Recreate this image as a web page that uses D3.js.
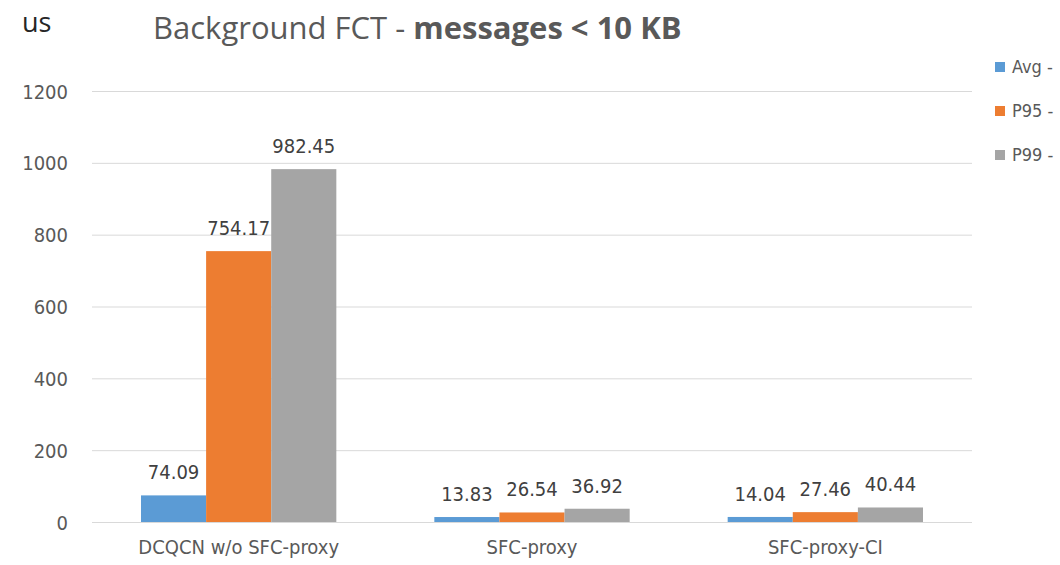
<!DOCTYPE html>
<meta charset="utf-8">
<style>
body { margin: 0; background: #fff; }
svg { display: block; }
.grid line { stroke: #d9d9d9; }
.grid path { display: none; }
.axis--y path, .axis--y line { display: none; }
.axis text, .value, .legend text { font-family: "DejaVu Sans Condensed", "Liberation Sans Narrow", sans-serif; }
.axis--y text { fill: #595959; font-size: 20px; }
.axis--x path, .axis--x line { display: none; }
.axis--x text { fill: #595959; font-size: 20px; }
.value { fill: #404040; font-size: 20px; }
.legend text { fill: #595959; font-size: 18px; }
</style>
<body>
<svg width="1060" height="565"></svg>
</body>
<script src="https://d3js.org/d3.v7.min.js"></script>
<script>

var categories = ["DCQCN w/o SFC-proxy", "SFC-proxy", "SFC-proxy-CI"];
var seriesNames = ["Avg -", "P95 -", "P99 -"];
var avgValues = [74.09, 13.83, 14.04];
var p95Values = [754.17, 26.54, 27.46];
var p99Values = [982.45, 36.92, 40.44];
var yTicks = [0, 200, 400, 600, 800, 1000, 1200];
var colors = ["#5b9bd5", "#ed7d31", "#a5a5a5"];

var seriesValues = [avgValues, p95Values, p99Values];

var svg = d3.select("svg"),
    margin = {top: 91, right: 88, bottom: 43, left: 92},
    width = +svg.attr("width") - margin.left - margin.right,
    height = +svg.attr("height") - margin.top - margin.bottom;

var x0 = d3.scaleBand().domain(categories).range([0, width]).paddingInner(0).paddingOuter(0),
    x1 = d3.scaleBand().domain(seriesNames).range([49, x0.bandwidth() - 49]).padding(0),
    y = d3.scaleLinear().domain([0, 1200]).range([height, 0]);

var g = svg.append("g")
    .attr("transform", "translate(" + margin.left + "," + margin.top + ")");

// gridlines
g.append("g")
    .attr("class", "grid")
    .call(d3.axisLeft(y).tickValues(yTicks).tickSize(-width).tickFormat(""));

// y axis labels
g.append("g")
    .attr("class", "axis axis--y")
    .attr("transform", "translate(-24,0)")
    .call(d3.axisLeft(y).tickValues(yTicks).tickSize(0).tickPadding(0).tickFormat(d3.format("d")))
  .selectAll("text")
    .attr("dy", "0.35em");

// x axis labels
g.append("g")
    .attr("class", "axis axis--x")
    .attr("transform", "translate(0," + height + ")")
    .call(d3.axisBottom(x0).tickSize(0).tickPadding(18));

// bars
var groups = g.selectAll(".group")
  .data(categories)
  .enter().append("g")
    .attr("class", "group")
    .attr("transform", function(d) { return "translate(" + x0(d) + ",0)"; });

seriesNames.forEach(function(s, i) {
  groups.append("rect")
      .attr("x", x1(s))
      .attr("y", function(d, j) { return y(seriesValues[i][j]); })
      .attr("width", x1.bandwidth())
      .attr("height", function(d, j) { return height - y(seriesValues[i][j]); })
      .attr("fill", colors[i]);

  groups.append("text")
      .attr("class", "value")
      .attr("x", x1(s) + x1.bandwidth() / 2)
      .attr("y", function(d, j) { return y(seriesValues[i][j]) - 16; })
      .attr("text-anchor", "middle")
      .text(function(d, j) { return seriesValues[i][j].toFixed(2); });
});

// unit label
svg.append("text")
    .attr("x", 22)
    .attr("y", 32)
    .attr("fill", "#262626")
    .style("font-family", "'Open Sans', sans-serif")
    .style("font-size", "27px")
    .text("us");

// title
var title = svg.append("text")
    .attr("x", 153)
    .attr("y", 39)
    .attr("fill", "#595959")
    .style("font-family", "'Open Sans', sans-serif")
    .style("font-size", "31px");
title.append("tspan").text("Background FCT - ");
title.append("tspan").attr("font-weight", "bold").text("messages < 10 KB");

// legend
var legend = svg.append("g")
    .attr("class", "legend")
  .selectAll("g")
  .data(seriesNames)
  .enter().append("g")
    .attr("transform", function(d, i) { return "translate(995," + (62 + i * 44) + ")"; });

legend.append("rect")
    .attr("width", 10)
    .attr("height", 10)
    .attr("fill", function(d, i) { return colors[i]; });

legend.append("text")
    .attr("x", 17)
    .attr("y", 5)
    .attr("dy", "0.35em")
    .text(function(d) { return d; });

</script>
